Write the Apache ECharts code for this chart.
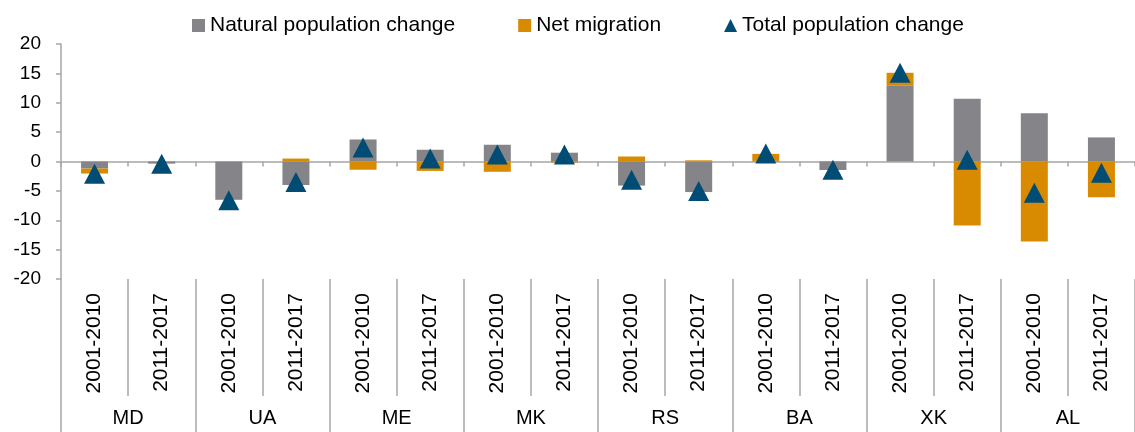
<!DOCTYPE html>
<html>
<head>
<meta charset="utf-8">
<script src="https://cdn.jsdelivr.net/npm/echarts@6/dist/echarts.min.js"></script>
<style>
  html, body { margin: 0; padding: 0; background: #fff; }
  #main { width: 1135px; height: 432px; }
</style>
</head>
<body>
<div id="main"></div>
<script>
// countries and the two periods shown for each
const countries = ['MD', 'UA', 'ME', 'MK', 'RS', 'BA', 'XK', 'AL'];
const periods = ['2001-2010', '2011-2017'];
const categories = [];
countries.forEach(function () {
  periods.forEach(function (p) { categories.push(p); });
});

// values (per 1000 people, roughly)
const natural = [-1.2, -0.3, -6.4, -4.0, 3.75, 2.0, 2.85, 1.5, -4.1, -5.2, 0.1, -1.45, 13.0, 10.7, 8.2, 4.1];
const migration = [-0.85, -0.1, -0.15, 0.5, -1.4, -1.6, -1.75, -0.2, 0.85, 0.2, 1.2, 0.05, 2.1, -10.9, -13.6, -6.1];
const total = [-2.1, -0.4, -6.6, -3.5, 2.4, 0.5, 1.2, 1.2, -3.1, -5.0, 1.35, -1.4, 15.1, 0.3, -5.3, -1.9];

const yTicks = { min: -20, max: 20, interval: 5 };

const FONT = 'Liberation Sans, Arial, sans-serif';
const GRAY = '#858589';
const ORANGE = '#D88A00';
const BLUE = '#004C75';
const AXIS = '#A6A6A6';

const chart = echarts.init(document.getElementById('main'), null, { renderer: 'canvas' });

const option = {
  animation: false,
  backgroundColor: '#fff',
  textStyle: { fontFamily: FONT, color: '#000' },
  legend: {
    top: 10,
    left: 187,
    itemGap: 63,
    itemWidth: 13,
    itemHeight: 13,
    textStyle: { fontSize: 21, color: '#000', fontFamily: FONT },
    data: [
      { name: 'Natural population change', icon: 'rect' },
      { name: 'Net migration', icon: 'rect' },
      { name: 'Total population change', icon: 'triangle' }
    ]
  },
  grid: { left: 61, right: -5, top: 44, bottom: 153, containLabel: false },
  xAxis: [
    {
      // line at zero with small ticks
      type: 'category',
      data: categories,
      axisLine: { onZero: true, lineStyle: { color: AXIS, width: 1.5 } },
      axisTick: { show: true, interval: 0, length: 5, lineStyle: { color: AXIS, width: 1.5 } },
      axisLabel: { show: false },
      splitLine: { show: false }
    },
    {
      // period labels under the plot
      type: 'category',
      data: categories,
      position: 'bottom',
      axisLine: { show: false, onZero: false },
      axisTick: { show: true, interval: 0, length: 117, lineStyle: { color: AXIS, width: 1.5 } },
      axisLabel: { interval: 0, rotate: 90, fontSize: 21, margin: 14, color: '#000', fontFamily: FONT }
    },
    {
      // country labels
      type: 'category',
      data: countries,
      position: 'bottom',
      axisLine: { show: false, onZero: false },
      axisTick: { show: true, interval: 0, length: 153, lineStyle: { color: AXIS, width: 1.5 } },
      axisLabel: { interval: 0, fontSize: 20, margin: 129, color: '#000', fontFamily: FONT }
    }
  ],
  yAxis: {
    type: 'value',
    min: yTicks.min,
    max: yTicks.max,
    interval: yTicks.interval,
    axisLine: { show: true, lineStyle: { color: AXIS, width: 1.5 } },
    axisTick: { show: true, length: 5, lineStyle: { color: AXIS, width: 1.5 } },
    axisLabel: { fontSize: 19, margin: 20, color: '#000', fontFamily: FONT },
    splitLine: { show: false }
  },
  series: [
    {
      name: 'Natural population change',
      type: 'bar',
      stack: 'pop',
      barWidth: 27,
      itemStyle: { color: GRAY },
      data: natural
    },
    {
      name: 'Net migration',
      type: 'bar',
      stack: 'pop',
      barWidth: 27,
      itemStyle: { color: ORANGE },
      data: migration
    },
    {
      name: 'Total population change',
      type: 'scatter',
      symbol: 'triangle',
      symbolSize: [21, 20],
      itemStyle: { color: BLUE, opacity: 1 },
      z: 5,
      data: total
    }
  ]
};

chart.setOption(option);
</script>
</body>
</html>
